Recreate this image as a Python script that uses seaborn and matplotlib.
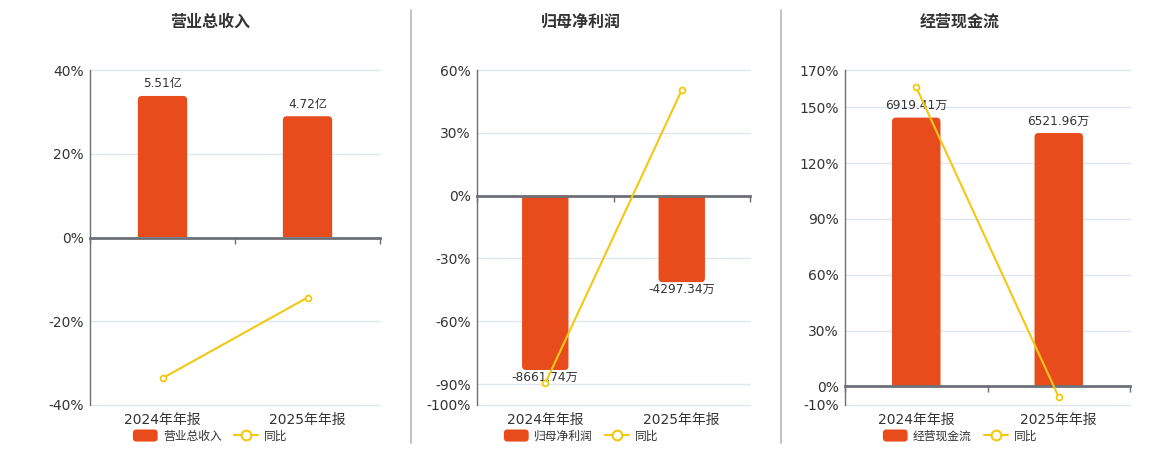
import numpy as np
import pandas as pd
import matplotlib
matplotlib.use('Agg')
import matplotlib.pyplot as plt
import seaborn as sns
from matplotlib.path import Path
from matplotlib.patches import PathPatch, FancyBboxPatch, Patch
from matplotlib.lines import Line2D
from matplotlib.transforms import IdentityTransform
from matplotlib.legend_handler import HandlerPatch
from matplotlib.ticker import FuncFormatter

# ---------------- data ----------------
periods = ['2024年年报', '2025年年报']

revenue = [5.51, 4.72]
revenue_labels = ['5.51亿', '4.72亿']
revenue_yoy = [-33.6, -14.34]

profit = [-8661.74, -4297.34]
profit_labels = ['-8661.74万', '-4297.34万']
profit_yoy = [-89.6, 50.39]

cashflow = [6919.41, 6521.96]
cashflow_labels = ['6919.41万', '6521.96万']
cashflow_yoy = [160.7, -5.74]

titles = ['营业总收入', '归母净利润', '经营现金流']
yoy_name = '同比'

# ---------------- style ----------------
sns.set_style('white')
plt.rcParams['font.family'] = ['DejaVu Sans', 'Noto Sans CJK SC']
plt.rcParams['axes.unicode_minus'] = False

BAR = '#E84C1D'
LINE = '#F2C811'
AXIS = '#6E7079'
GRID = '#E0E6F1'
TEXT = '#333333'

W, H = 1160, 450
fig = plt.figure(figsize=(W / 100, H / 100), dpi=100)
fig.patch.set_facecolor('white')


def frac_rect(l, t, r, b):
    return [l / W, 1 - b / H, (r - l) / W, (b - t) / H]


def round_bar_ends(ax, r=4.0):
    for p in list(ax.patches):
        x, y, w, h = p.get_x(), p.get_y(), p.get_width(), p.get_height()
        (X0, Y0), (X1, Y1) = ax.transData.transform([(x, y), (x + w, y + h)])
        s = 1 if Y1 > Y0 else -1
        rr = min(r, abs(X1 - X0) / 2, abs(Y1 - Y0))
        verts = [(X0, Y0), (X0, Y1 - s * rr), (X0, Y1), (X0 + rr, Y1),
                 (X1 - rr, Y1), (X1, Y1), (X1, Y1 - s * rr), (X1, Y0), (X0, Y0)]
        codes = [Path.MOVETO, Path.LINETO, Path.CURVE3, Path.CURVE3,
                 Path.LINETO, Path.CURVE3, Path.CURVE3, Path.LINETO, Path.CLOSEPOLY]
        new = PathPatch(Path(verts, codes), facecolor=p.get_facecolor(),
                        edgecolor='none', transform=IdentityTransform(),
                        zorder=p.get_zorder())
        p.remove()
        ax.add_artist(new)


def rounded_patch(legend, orig_handle, xdescent, ydescent, width, height, fontsize):
    return FancyBboxPatch((-xdescent, -ydescent), width, height,
                          boxstyle=f"round,pad=0,rounding_size={height * 0.3}")


def draw_panel(rect, title, cx, values, labels, yoy, pct_lim, pct_ticks, bar_lim):
    ax = fig.add_axes(frac_rect(*rect))
    axb = ax.twinx()
    axl = ax.twinx()

    sns.barplot(x=periods, y=values, ax=axb, color=BAR, saturation=1,
                width=0.34, legend=False)
    sns.pointplot(x=periods, y=yoy, ax=axl, color=LINE, errorbar=None,
                  markers='o', markersize=4.2, markerfacecolor='white',
                  markeredgewidth=1.3, linewidth=1.5)

    # percent axis
    ax.set_ylim(pct_lim)
    ax.set_yticks(pct_ticks)
    ax.yaxis.set_major_formatter(FuncFormatter(lambda v, _: f"{v:.0f}%"))
    ax.set_xticks([0, 1], periods)
    ax.set_xlim(-0.5, 1.5)
    ax.yaxis.grid(True, color=GRID, lw=1, clip_on=False)
    ax.xaxis.grid(False)
    ax.set_axisbelow(True)
    for side in ['top', 'right', 'bottom']:
        ax.spines[side].set_visible(False)
    ax.spines['left'].set_color(AXIS)
    ax.spines['left'].set_linewidth(1)
    ax.tick_params(axis='y', length=0, pad=4.3, labelsize=10, labelcolor=TEXT)
    ax.tick_params(axis='x', length=0, pad=5.8, labelsize=10, labelcolor=TEXT)
    ax.set_xlabel('')
    ax.set_ylabel('')

    # bar axis
    axb.set_ylim(bar_lim)
    axb.set_yticks([])
    axb.set_ylabel('')
    for s in axb.spines.values():
        s.set_visible(False)
    pad = 4 if values[0] > 0 else 0.5
    axb.bar_label(axb.containers[0], labels=labels, padding=pad,
                  fontsize=8.7, color=TEXT)

    # line axis
    axl.set_ylim(pct_lim)
    axl.set_yticks([])
    axl.set_ylabel('')
    for s in axl.spines.values():
        s.set_visible(False)

    # zero axis line with category boundary ticks
    frac0 = (0 - pct_lim[0]) / (pct_lim[1] - pct_lim[0])
    sec = axl.secondary_xaxis(frac0)
    sec.set_alignment('bottom')
    sec.set_xticks([-0.5, 0.5, 1.5])
    sec.tick_params(axis='x', length=4, width=1, color=AXIS, labelbottom=False)
    sec.spines['bottom'].set_color(AXIS)
    sec.spines['bottom'].set_linewidth(2)

    ax.set_xlim(-0.5, 1.5)
    round_bar_ends(axb, r=4)

    fig.text(cx / W, 1 - 22 / H, title, ha='center', va='center',
             fontsize=11.5, fontweight='bold', color=TEXT)

    handles = [Patch(facecolor=BAR, edgecolor='none'),
               Line2D([0], [0], color=LINE, lw=1.5, marker='o', markersize=7,
                      markerfacecolor='white', markeredgewidth=1.5)]
    fig.legend(handles, [title, yoy_name], loc='center',
               bbox_to_anchor=(cx / W, 1 - 436 / H), ncol=2, frameon=False,
               fontsize=8.5, labelcolor=TEXT, handlelength=2.1, handleheight=1.2,
               handletextpad=0.45, columnspacing=1.0, borderaxespad=0, borderpad=0,
               handler_map={Patch: HandlerPatch(patch_func=rounded_patch)})


draw_panel((90, 70, 380, 405), titles[0], 210, revenue, revenue_labels, revenue_yoy,
           (-40, 40), [-40, -20, 0, 20, 40], (-6.52, 6.52))
draw_panel((477, 70, 750, 405), titles[1], 581, profit, profit_labels, profit_yoy,
           (-100, 60), [-100, -90, -60, -30, 0, 30, 60], (-10400, 6240))
draw_panel((845, 70, 1130, 405), titles[2], 960, cashflow, cashflow_labels, cashflow_yoy,
           (-10, 170), [-10, 0, 30, 60, 90, 120, 150, 170], (-479, 8145))

for x in (410.5, 780.5):
    fig.add_artist(Line2D([x / W, x / W], [1 - 10 / H, 1 - 443 / H],
                          transform=fig.transFigure, color='#BDBDBD', lw=1.3))

fig.savefig('out.png', dpi=100, facecolor='white')
